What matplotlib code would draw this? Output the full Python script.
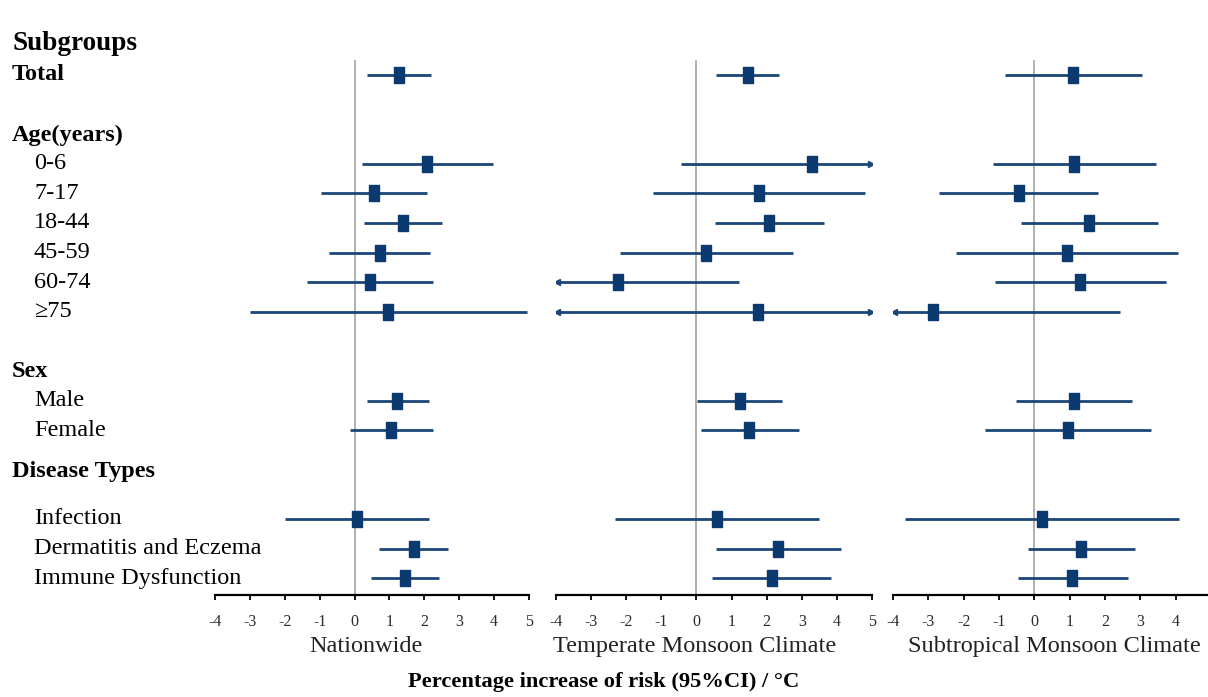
import numpy as np
import matplotlib
matplotlib.use('Agg')
import matplotlib.pyplot as plt
from matplotlib.transforms import blended_transform_factory

plt.rcParams['font.family'] = ['Liberation Serif', 'DejaVu Serif']
plt.rcParams['axes.unicode_minus'] = False

# --- data ---
subgroups = ['Total', '0-6', '7-17', '18-44', '45-59', '60-74', '\u226575',
             'Male', 'Female', 'Infection', 'Dermatitis and Eczema', 'Immune Dysfunction']
headers = ['Subgroups', 'Age(years)', 'Sex', 'Disease Types']
panels = ['Nationwide', 'Temperate Monsoon Climate', 'Subtropical Monsoon Climate']

nation_est = [1.26, 2.09, 0.56, 1.38, 0.72, 0.44, 0.96, 1.23, 1.05, 0.07, 1.69, 1.44]
nation_lo = [0.35, 0.21, -0.96, 0.26, -0.72, -1.37, -2.99, 0.35, -0.14, -1.98, 0.70, 0.46]
nation_hi = [2.19, 3.98, 2.09, 2.52, 2.17, 2.26, 4.94, 2.12, 2.26, 2.12, 2.69, 2.43]

temp_est = [1.47, 3.29, 1.77, 2.07, 0.28, -2.22, 1.76, 1.23, 1.51, 0.59, 2.33, 2.14]
temp_lo = [0.57, -0.43, -1.24, 0.53, -2.17, -4.8, -5.3, 0.02, 0.12, -2.31, 0.55, 0.44]
temp_hi = [2.36, 5.6, 4.81, 3.62, 2.74, 1.22, 5.5, 2.45, 2.93, 3.50, 4.12, 3.84]

subtrop_est = [1.09, 1.12, -0.44, 1.55, 0.92, 1.29, -2.86, 1.12, 0.95, 0.21, 1.32, 1.08]
subtrop_lo = [-0.84, -1.17, -2.70, -0.39, -2.23, -1.12, -4.6, -0.51, -1.39, -3.67, -0.18, -0.45]
subtrop_hi = [3.05, 3.43, 1.81, 3.50, 4.07, 3.72, 2.43, 2.76, 3.29, 4.09, 2.84, 2.65]

# --- layout (row positions, in row units from "Total") ---
row_pos = [0, 3, 4, 5, 6, 7, 8, 11, 12, 15, 16, 17]
header_pos = [-1.05, 2.03, 10.03, 13.4]
XMIN, XMAX = -4, 5
LINE_C = '#1b4677'
BOX_C = '#0b3a70'
# tall narrow box marker
box = [(-0.31, -0.5), (0.31, -0.5), (0.31, 0.5), (-0.31, 0.5), (-0.31, -0.5)]

W, H = 1208, 697
fig = plt.figure(figsize=(W / 100, H / 100), dpi=100)

ax_px = [(215, 529), (556, 872), (893, 1211)]
label_x = [0.481, 0.438, 0.506]
bottom = 1 - 595 / H
top = 1 - 30.6 / H

series = [(nation_est, nation_lo, nation_hi),
          (temp_est, temp_lo, temp_hi),
          (subtrop_est, subtrop_lo, subtrop_hi)]

axes = []
for (x0, x1), name, lx, (est, lo, hi) in zip(ax_px, panels, label_x, series):
    ax = fig.add_axes([x0 / W, bottom, (x1 - x0) / W, top - bottom])
    ax.set_xlim(XMIN, XMAX)
    ax.set_ylim(17.57, -1.5)
    ax.plot([0, 0], [-0.47, 17.57], color='#9a9a9a', lw=1.1, zorder=1)
    for y, e, l, h in zip(row_pos, est, lo, hi):
        lc, hc = max(l, XMIN), min(h, XMAX)
        ax.plot([lc, hc], [y, y], color=LINE_C, lw=2.0, solid_capstyle='butt', zorder=2)
        if l < XMIN:
            ax.plot(XMIN + 0.02, y, marker='<', ms=4.5, color=LINE_C, zorder=2)
        if h > XMAX:
            ax.plot(XMAX - 0.02, y, marker='>', ms=4.5, color=LINE_C, zorder=2)
        ax.plot(e, y, marker=box, ms=11, color=BOX_C, mec=BOX_C, zorder=3)
    for s in ['top', 'right', 'left']:
        ax.spines[s].set_visible(False)
    ax.spines['bottom'].set_linewidth(1.6)
    ax.set_yticks([])
    ax.set_xticks(range(XMIN, XMAX + 1))
    ax.tick_params(axis='x', direction='out', length=3.5, width=1.3, pad=10,
                   labelsize=11.5, colors='black')
    for t in ax.get_xticklabels():
        t.set_color('#2a2a2a')
    ax.set_xlabel(name, fontsize=17.5, color='#222222')
    ax.xaxis.set_label_coords(lx, -0.072)
    axes.append(ax)

# row labels on the left
tr = blended_transform_factory(fig.transFigure, axes[0].transData)
for name, y in zip(subgroups, row_pos):
    if name == 'Total':
        axes[0].text(12 / W, y, name, transform=tr, va='center', ha='left',
                     fontsize=17.5, fontweight='bold')
    else:
        axes[0].text(34 / W, y, name, transform=tr, va='center', ha='left',
                     fontsize=17.5)
for name, y in zip(headers, header_pos):
    axes[0].text(12 / W, y, name, transform=tr, va='center', ha='left',
                 fontsize=19.5 if name == 'Subgroups' else 17.5, fontweight='bold')

fig.text(0.4996, 1 - 682 / H, 'Percentage increase of risk (95%CI) / \u00b0C',
         ha='center', va='center', fontsize=16.2, fontweight='bold')

fig.savefig('out.png', dpi=100)
